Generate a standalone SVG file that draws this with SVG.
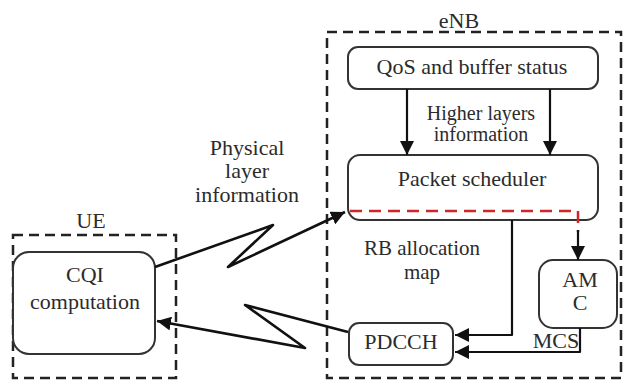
<svg xmlns="http://www.w3.org/2000/svg" width="624" height="383" viewBox="0 0 624 383">
<defs>
<marker id="ah" markerUnits="userSpaceOnUse" markerWidth="16" markerHeight="14" refX="14" refY="7" orient="auto">
<path d="M0,0 L14,7 L0,14 z" fill="#111"/>
</marker>
</defs>
<rect width="624" height="383" fill="#fff"/>
<g fill="none" stroke="#222" stroke-width="2.5" stroke-dasharray="10 6">
<g id="eNB"><rect x="327" y="32" width="294" height="346"/></g>
<g id="UE"><rect x="13" y="235" width="163" height="143"/></g>
</g>
<g fill="#fff" stroke="#333" stroke-width="2">
<g id="qos"><rect x="348" y="47" width="250" height="42" rx="10"/></g>
<g id="scheduler"><rect x="348" y="155" width="250" height="65" rx="12"/></g>
<g id="amc"><rect x="539" y="260" width="78" height="68" rx="14"/></g>
<g id="pdcch"><rect x="349" y="323" width="104" height="42" rx="10"/></g>
<g id="cqi"><rect x="13" y="252" width="142" height="102" rx="16"/></g>
</g>
<g id="connectors" fill="none" stroke="#111" stroke-width="2.2" stroke-linejoin="round">
<line x1="407" y1="89" x2="407" y2="155" marker-end="url(#ah)"/>
<line x1="550" y1="89" x2="550" y2="155" marker-end="url(#ah)"/>
<polyline points="350,211 578,211 578,232" stroke="#d0262a" stroke-width="2.5" stroke-dasharray="12 7"/>
<line x1="578" y1="230" x2="578" y2="260" marker-end="url(#ah)"/>
<polyline points="512,220 512,335 455,335" marker-end="url(#ah)"/>
<polyline points="580,328 580,352 455,352" marker-end="url(#ah)"/>
<polyline points="155,267 273,225 228,267 345,212" stroke-width="2.6" marker-end="url(#ah)"/>
<polyline points="348,332 245,305 305,348 157,321" stroke-width="2.6" marker-end="url(#ah)"/>
</g>
<g id="texts" fill="#2b2b2b" text-anchor="middle">
<text font-family="Liberation Serif" font-size="22" x="459" y="28">eNB</text>
<text font-family="Liberation Serif" font-size="22" x="91" y="228">UE</text>
<text font-family="Liberation Serif" font-size="22" x="472" y="74">QoS and buffer status</text>
<text font-family="Liberation Serif" font-size="22" x="472" y="186">Packet scheduler</text>
<text font-family="Liberation Serif" font-size="22" x="580" y="287">AM</text>
<text font-family="Liberation Serif" font-size="22" x="580" y="310">C</text>
<text font-family="Liberation Serif" font-size="22" x="401" y="349">PDCCH</text>
<text font-family="Liberation Serif" font-size="22" x="85" y="282">CQI</text>
<text font-family="Liberation Serif" font-size="22" x="85" y="309">computation</text>
<text font-family="Liberation Serif" font-size="20" x="481" y="120">Higher layers</text>
<text font-family="Liberation Serif" font-size="20" x="481" y="141">information</text>
<text font-family="Liberation Serif" font-size="22" x="247" y="155">Physical</text>
<text font-family="Liberation Serif" font-size="22" x="247" y="178">layer</text>
<text font-family="Liberation Serif" font-size="22" x="247" y="202">information</text>
<text font-family="Liberation Serif" font-size="21" x="422" y="255">RB allocation</text>
<text font-family="Liberation Serif" font-size="21" x="422" y="279">map</text>
<text font-family="Liberation Serif" font-size="22" x="556" y="348">MCS</text>
</g>
</svg>
